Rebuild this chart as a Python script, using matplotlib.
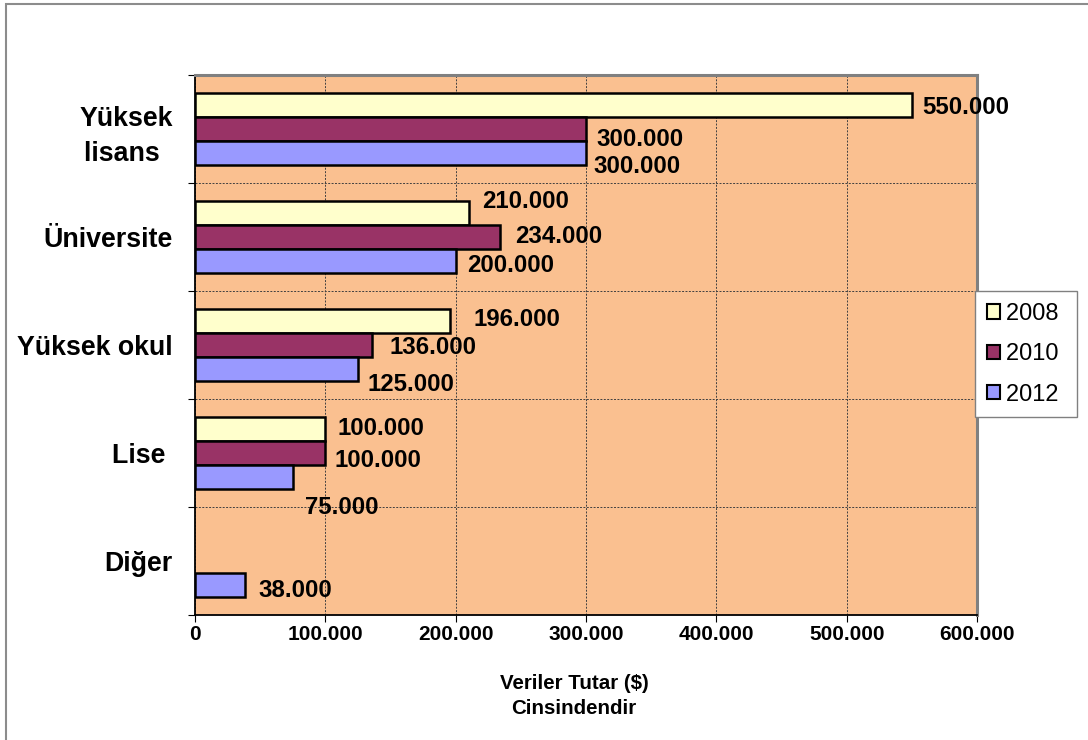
import numpy as np
import matplotlib
matplotlib.use("Agg")
import matplotlib.pyplot as plt
from matplotlib import font_manager
from matplotlib.patches import Rectangle, Patch
from matplotlib.ticker import FuncFormatter, FixedLocator

# --- data -------------------------------------------------------------
categories = ["Yüksek\nlisans ", "Üniversite", "Yüksek okul", "Lise ", "Diğer"]
years = ["2008", "2010", "2012"]
values_2008 = [550000, 210000, 196000, 100000, np.nan]
values_2010 = [300000, 234000, 136000, 100000, np.nan]
values_2012 = [300000, 200000, 125000, 75000, 38000]
x_ticks = [0, 100000, 200000, 300000, 400000, 500000, 600000]

# hand-placed value labels: (dx, dy) in pixels from the bar end / bar centre
label_nudge = {
    "2008": [(10, 1), (13, -13), (23, -3), (12, -2), None],
    "2010": [(10, 9), (15, -2), (17, 1), (9, 6), None],
    "2012": [(7, 12), (11, 3), (10, 14), (12, 29), (14, 4)],
}

# --- style ------------------------------------------------------------
names = {f.name for f in font_manager.fontManager.ttflist}
base_font = "Liberation Sans" if "Liberation Sans" in names else "DejaVu Sans"
plt.rcParams["font.family"] = [base_font, "DejaVu Sans"]

colors = {"2008": "#FFFFCC", "2010": "#993366", "2012": "#9999FF"}
plot_bg = "#FAC090"

W, H = 1088, 740
fig = plt.figure(figsize=(W / 100, H / 100), dpi=100)
fig.patch.set_facecolor("white")

# outer chart frame
fig.add_artist(Rectangle((6 / W, -0.1), 1.2, 1 - 4 / H + 0.1,
                         transform=fig.transFigure, fill=False,
                         edgecolor="#8c8c8c", linewidth=1.5, clip_on=False))

left, right, top, bottom = 195, 977, 75, 615
ax = fig.add_axes([left / W, 1 - bottom / H, (right - left) / W, (bottom - top) / H])
ax.set_facecolor(plot_bg)

y = np.arange(len(categories))
h = 0.222
series = {"2008": values_2008, "2010": values_2010, "2012": values_2012}
offsets = {"2008": -h, "2010": 0.0, "2012": h}

for yr in years:
    vals = np.array(series[yr], dtype=float)
    ax.barh(y + offsets[yr], vals, height=h, color=colors[yr],
            edgecolor="black", linewidth=1.8, zorder=3, label=yr)
    for i, v in enumerate(vals):
        nudge = label_nudge[yr][i]
        if np.isnan(v) or nudge is None:
            continue
        dx, dy = nudge
        txt = f"{v:,.0f}".replace(",", ".")
        ax.annotate(txt, xy=(v, y[i] + offsets[yr]), xytext=(dx, -(dy + 8)),
                    textcoords="offset pixels", ha="left", va="baseline",
                    fontsize=17.3, fontweight="bold", color="black",
                    zorder=5, annotation_clip=False)

ax.set_xlim(0, 600000)
ax.set_ylim(len(categories) - 0.5, -0.5)

# x axis
ax.xaxis.set_major_locator(FixedLocator(x_ticks))
ax.xaxis.set_major_formatter(FuncFormatter(lambda v, p: f"{v:,.0f}".replace(",", ".")))
ax.tick_params(axis="x", which="major", direction="out", length=5, width=0.8,
               pad=2, labelsize=15)
for lab in ax.get_xticklabels():
    lab.set_fontweight("bold")

# y axis: ticks at category boundaries, labels at centres
ax.yaxis.set_major_locator(FixedLocator(np.arange(-0.5, len(categories), 1.0)))
ax.yaxis.set_major_formatter(FuncFormatter(lambda v, p: ""))
ax.yaxis.set_minor_locator(FixedLocator(y))
ax.set_yticks(y, categories, minor=True)
ax.tick_params(axis="y", which="major", direction="out", length=5, width=0.8)
ax.tick_params(axis="y", which="minor", length=0, pad=16, labelsize=19.3)
for lab in ax.get_yticklabels(minor=True):
    lab.set_fontweight("bold")
    lab.set_multialignment("center")
    lab.set_linespacing(1.45)

# grid
ax.grid(True, which="major", axis="both", linestyle=(0, (2, 1.5)),
        color="#404040", linewidth=0.7, zorder=1)
ax.set_axisbelow(True)

# plot area border
for side in ("top", "right"):
    ax.spines[side].set_color("#808080")
    ax.spines[side].set_linewidth(2.2)
for side in ("left", "bottom"):
    ax.spines[side].set_color("black")
    ax.spines[side].set_linewidth(1.3)

# axis title
fig.text(574 / W, 1 - 674 / H, "Veriler Tutar ($)\nCinsindendir",
         ha="center", va="top", multialignment="center",
         fontsize=14.8, fontweight="bold", linespacing=1.42)

# legend
handles = [Patch(facecolor=colors[yr], edgecolor="black", linewidth=1.5) for yr in years]
leg = fig.legend(handles, [yr + " " for yr in years], loc="upper left",
                 bbox_to_anchor=(975 / W, 1 - 291 / H), bbox_transform=fig.transFigure,
                 borderaxespad=0, fontsize=17, frameon=True, fancybox=False,
                 shadow=False, framealpha=1, edgecolor="#808080",
                 handlelength=0.55, handleheight=0.55, handletextpad=0.25,
                 labelspacing=0.78, borderpad=0.5)
leg.get_frame().set_linewidth(1.0)

fig.savefig("out.png", dpi=100, facecolor="white")
